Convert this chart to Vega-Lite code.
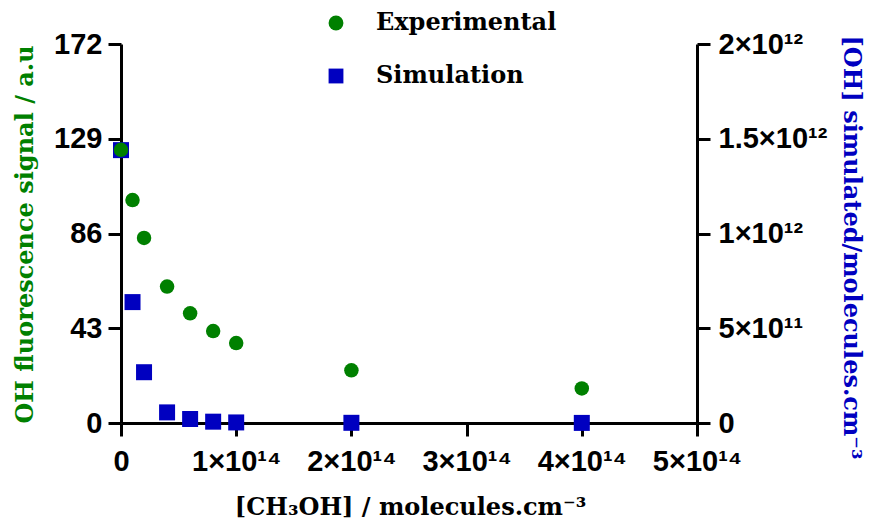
{
  "$schema": "https://vega.github.io/schema/vega-lite/v6.json",
  "width": 576,
  "height": 379,
  "autosize": {"type": "none"},
  "padding": {"left": 121, "top": 44, "right": 172, "bottom": 104},
  "background": "white",
  "config": {
    "view": {"stroke": null},
    "axis": {
      "grid": false,
      "domainColor": "black",
      "domainWidth": 3,
      "tickColor": "black",
      "tickWidth": 3,
      "tickSize": 13,
      "labelFont": "Liberation Sans",
      "labelFontWeight": "bold",
      "labelFontSize": 29,
      "labelColor": "black",
      "titleFont": "DejaVu Serif",
      "titleFontWeight": "bold",
      "titleFontSize": 24
    }
  },
  "data": {
    "values": [
      {"conc": 0, "value": 124.0, "series": "Experimental"},
      {"conc": 1e13, "value": 101.2, "series": "Experimental"},
      {"conc": 2e13, "value": 84.0, "series": "Experimental"},
      {"conc": 4e13, "value": 61.9, "series": "Experimental"},
      {"conc": 6e13, "value": 49.8, "series": "Experimental"},
      {"conc": 8e13, "value": 41.7, "series": "Experimental"},
      {"conc": 1e14, "value": 36.3, "series": "Experimental"},
      {"conc": 2e14, "value": 23.9, "series": "Experimental"},
      {"conc": 4e14, "value": 15.7, "series": "Experimental"},
      {"conc": 0, "value": 1.44e12, "series": "Simulation"},
      {"conc": 1e13, "value": 6.38e11, "series": "Simulation"},
      {"conc": 2e13, "value": 2.68e11, "series": "Simulation"},
      {"conc": 4e13, "value": 5.6e10, "series": "Simulation"},
      {"conc": 6e13, "value": 2.1e10, "series": "Simulation"},
      {"conc": 8e13, "value": 7e9, "series": "Simulation"},
      {"conc": 1e14, "value": 3e9, "series": "Simulation"},
      {"conc": 2e14, "value": 1e9, "series": "Simulation"},
      {"conc": 4e14, "value": 5e8, "series": "Simulation"}
    ]
  },
  "encoding": {
    "x": {
      "field": "conc",
      "type": "quantitative",
      "scale": {"domain": [0, 5e14], "nice": false, "zero": true},
      "axis": {
        "values": [0, 1e14, 2e14, 3e14, 4e14, 5e14],
        "labelExpr": "datum.value == 0 ? '0' : format(datum.value / 1e14, 'd') + '×10¹⁴'",
        "labelPadding": 11,
        "labelFlush": false,
        "title": "[CH₃OH] / molecules.cm⁻³",
        "titleX": 289,
        "titleY": 84,
        "titleBaseline": "middle",
        "titleAlign": "center"
      }
    },
    "color": {
      "field": "series",
      "type": "nominal",
      "scale": {"domain": ["Experimental", "Simulation"], "range": ["#008000", "#0000C0"]},
      "legend": {
        "orient": "none",
        "legendX": 203,
        "legendY": -33,
        "title": null,
        "symbolSize": 220,
        "symbolOpacity": 1,
        "symbolStrokeWidth": 0,
        "labelFont": "DejaVu Serif",
        "labelFontWeight": "bold",
        "labelFontSize": 24,
        "labelColor": "black",
        "labelLimit": 400,
        "labelOffset": 28,
        "rowPadding": 29
      }
    },
    "shape": {
      "field": "series",
      "type": "nominal",
      "scale": {"domain": ["Experimental", "Simulation"], "range": ["circle", "square"]}
    }
  },
  "layer": [
    {
      "transform": [{"filter": "datum.series == 'Simulation'"}],
      "mark": {"type": "point", "filled": true, "opacity": 1, "size": 256, "clip": false},
      "encoding": {
        "y": {
          "field": "value",
          "type": "quantitative",
          "scale": {"domain": [0, 2e12], "nice": false},
          "axis": {
            "orient": "right",
            "values": [0, 5e11, 1e12, 1.5e12, 2e12],
            "labelExpr": "datum.value == 0 ? '0' : datum.value == 5e11 ? '5×10¹¹' : datum.value == 1e12 ? '1×10¹²' : datum.value == 1.5e12 ? '1.5×10¹²' : '2×10¹²'",
            "labelPadding": 8,
            "title": "[OH] simulated/molecules.cm⁻³",
            "titleColor": "#0000C0",
            "titleAngle": 90,
            "titleX": 153,
            "titleY": 203,
            "titleBaseline": "middle",
            "titleAlign": "center"
          }
        }
      }
    },
    {
      "transform": [{"filter": "datum.series == 'Experimental'"}],
      "mark": {"type": "point", "filled": true, "opacity": 1, "size": 210, "clip": false},
      "encoding": {
        "y": {
          "field": "value",
          "type": "quantitative",
          "scale": {"domain": [0, 172], "nice": false},
          "axis": {
            "orient": "left",
            "values": [0, 43, 86, 129, 172],
            "labelPadding": 6,
            "title": "OH fluorescence signal / a.u",
            "titleColor": "#008000",
            "titleAngle": -90,
            "titleX": -96,
            "titleY": 190,
            "titleBaseline": "middle",
            "titleAlign": "center"
          }
        }
      }
    }
  ],
  "resolve": {"scale": {"y": "independent"}}
}
